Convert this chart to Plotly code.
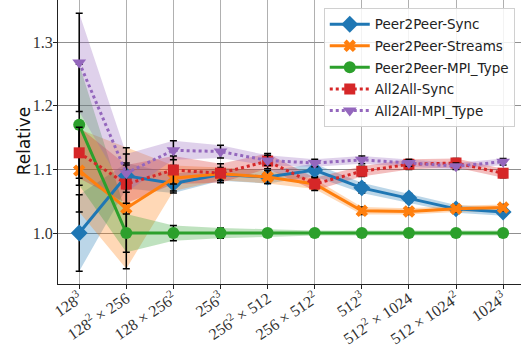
import plotly.graph_objects as go

# Problem sizes (x axis categories)
sizes = ["128<sup>3</sup>", "128<sup>2</sup> × 256", "128 × 256<sup>2</sup>", "256<sup>3</sup>",
         "256<sup>2</sup> × 512", "256 × 512<sup>2</sup>", "512<sup>3</sup>",
         "512<sup>2</sup> × 1024", "512 × 1024<sup>2</sup>", "1024<sup>3</sup>"]

# Relative runtimes (mean) and their spread
p2p_sync = [1.000, 1.090, 1.078, 1.092, 1.088, 1.099, 1.071, 1.055, 1.038, 1.033]
p2p_sync_std = [0.060, 0.020, 0.015, 0.010, 0.010, 0.010, 0.008, 0.007, 0.006, 0.006]
p2p_streams = [1.098, 1.039, 1.086, 1.093, 1.088, 1.077, 1.035, 1.034, 1.038, 1.040]
p2p_streams_std = [0.065, 0.095, 0.020, 0.010, 0.010, 0.008, 0.006, 0.005, 0.005, 0.005]
p2p_type = [1.170, 1.000, 1.000, 1.000, 1.000, 1.000, 1.000, 1.000, 1.000, 1.000]
p2p_type_std = [0.095, 0.030, 0.012, 0.008, 0.006, 0.004, 0.004, 0.004, 0.004, 0.004]
a2a_sync = [1.126, 1.077, 1.099, 1.094, 1.113, 1.077, 1.097, 1.108, 1.110, 1.094]
a2a_sync_std = [0.040, 0.030, 0.022, 0.015, 0.012, 0.010, 0.008, 0.008, 0.007, 0.007]
a2a_type = [1.268, 1.094, 1.130, 1.128, 1.114, 1.110, 1.115, 1.110, 1.105, 1.112]
a2a_type_std = [0.077, 0.030, 0.015, 0.010, 0.008, 0.006, 0.006, 0.005, 0.005, 0.005]

series = [
    ("Peer2Peer-Sync", p2p_sync, p2p_sync_std, (31, 119, 180), "diamond", 13, "solid"),
    ("Peer2Peer-Streams", p2p_streams, p2p_streams_std, (255, 127, 14), "x", 11, "solid"),
    ("Peer2Peer-MPI_Type", p2p_type, p2p_type_std, (44, 160, 44), "circle", 12, "solid"),
    ("All2All-Sync", a2a_sync, a2a_sync_std, (214, 39, 40), "square", 11, "dot"),
    ("All2All-MPI_Type", a2a_type, a2a_type_std, (148, 103, 189), "triangle-down", 12, "dot"),
]

xs = list(range(len(sizes)))
fig = go.Figure()

# shaded spread bands
for name, mean, std, rgb, sym, msize, dash in series:
    upper = [m + s for m, s in zip(mean, std)]
    lower = [m - s for m, s in zip(mean, std)]
    fig.add_trace(go.Scatter(
        x=xs + xs[::-1], y=upper + lower[::-1], fill="toself",
        fillcolor="rgba(%d,%d,%d,0.3)" % rgb, line=dict(width=0),
        mode="lines", showlegend=False, hoverinfo="skip"))

# mean lines with error bars
for name, mean, std, rgb, sym, msize, dash in series:
    col = "rgb(%d,%d,%d)" % rgb
    fig.add_trace(go.Scatter(
        x=xs, y=mean, name=name, legendgroup=name, mode="lines+markers",
        line=dict(color=col, width=3, dash=dash),
        marker=dict(symbol=sym, size=msize, color=col, line=dict(width=0)),
        error_y=dict(type="data", array=std, color="black", thickness=1.5, width=3.5)))

fig.update_layout(
    width=521, height=349,
    margin=dict(l=58, r=0, t=0, b=65, autoexpand=False),
    plot_bgcolor="white", paper_bgcolor="white",
    legend=dict(x=0.574, y=0.972, xanchor="left", yanchor="top",
                bgcolor="rgba(255,255,255,0.85)", bordercolor="#d0d0d0", borderwidth=1,
                font=dict(family="DejaVu Sans", size=13.5, color="#222"),
                tracegroupgap=1, itemwidth=40),
    annotations=[dict(text="Relative", xref="paper", yref="paper", x=-0.073, y=0.503,
                      xanchor="center", yanchor="middle", textangle=-90, showarrow=False,
                      font=dict(family="DejaVu Sans", size=17, color="#111"))],
)
fig.update_xaxes(
    tickmode="array", tickvals=xs, ticktext=sizes, tickangle=-34,
    tickfont=dict(family="Liberation Serif", size=16, color="#333"), ticklabelstandoff=-6,
    range=[-0.45, 9.38], showgrid=True, gridcolor="#b0b0b0", gridwidth=1.3,
    showline=True, linecolor="#222", linewidth=1.3, zeroline=False, automargin=False,
    ticks="outside", ticklen=4, tickcolor="#222")
fig.update_yaxes(
    tickvals=[1.0, 1.1, 1.2, 1.3], ticktext=["1.0", "1.1", "1.2", "1.3"],
    tickfont=dict(family="Liberation Serif", size=16, color="#333"), ticklabelstandoff=-3,
    range=[0.92, 1.366], showgrid=True, gridcolor="#909090", gridwidth=1.3,
    showline=True, linecolor="#222", linewidth=1.3, zeroline=False, automargin=False,
    ticks="outside", ticklen=4, tickcolor="#222")

fig.write_html("out.html")
